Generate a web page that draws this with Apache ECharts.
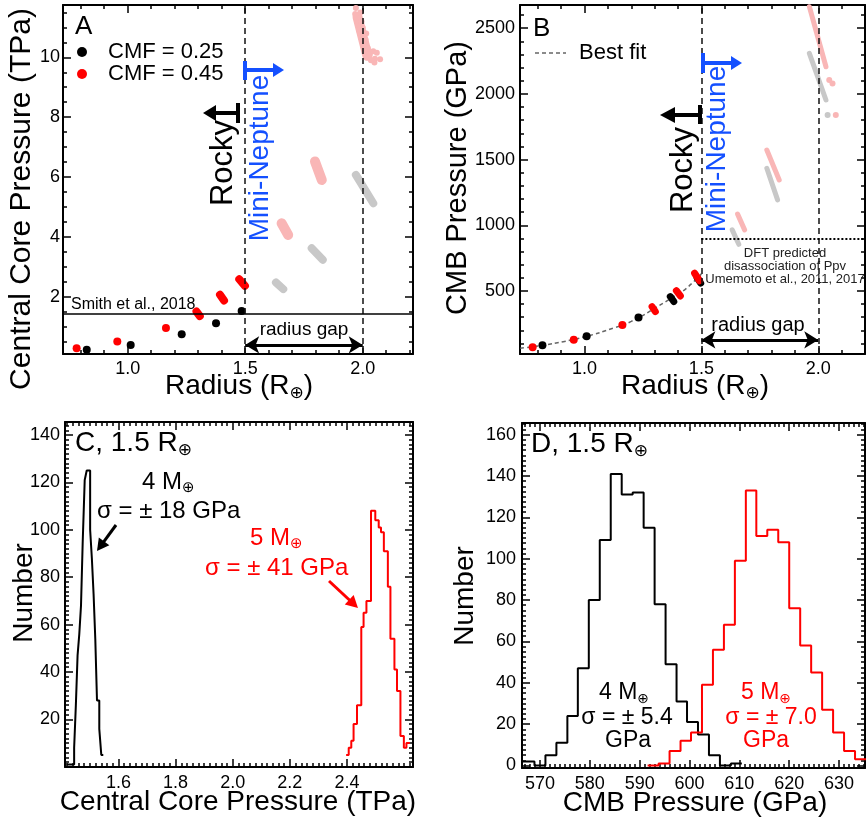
<!DOCTYPE html>
<html>
<head>
<meta charset="utf-8">
<script src="https://cdn.jsdelivr.net/npm/echarts@6/dist/echarts.min.js"></script>
<style>
  html, body { margin: 0; padding: 0; background: #fff; }
  #chart { width: 866px; height: 824px; }
</style>
</head>
<body>
<div id="chart"></div>
<script>
// ---------- Panel A: central core pressure (TPa) vs radius ----------
// rocky planets, CMF = 0.25 (black) – single round clusters
const aR25 = [0.826, 1.013, 1.23, 1.376, 1.485];
const aP25 = [0.22, 0.38, 0.74, 1.11, 1.52];
// rocky planets, CMF = 0.45 (red) – round clusters
const aR45 = [0.783, 0.956, 1.163];
const aP45 = [0.27, 0.50, 0.95];
// CMF = 0.45 elongated clusters, start / end of each
const aR45s = [1.293, 1.393, 1.475];
const aP45s = [1.50, 2.06, 2.58];
const aR45e = [1.307, 1.41, 1.499];
const aP45e = [1.35, 1.87, 2.36];
// mini-Neptune models: pink (CMF 0.45) and grey (CMF 0.25) bands
const aPinkRs = [1.655, 1.797, 1.978];
const aPinkPs = [4.45, 6.52, 11.35];
const aPinkRe = [1.683, 1.826, 2.02];
const aPinkPe = [4.06, 5.90, 10.05];
const aPinkDotR = [1.971, 1.968, 1.99, 2.0, 2.012, 2.022, 2.03, 1.985, 2.015, 2.045, 2.06, 2.052, 2.074, 2.05, 2.035, 1.995];
const aPinkDotP = [11.65, 11.45, 11.5, 11.0, 10.6, 10.3, 10.1, 10.9, 10.8, 10.2, 10.15, 9.95, 9.94, 9.83, 9.9, 11.2];
const aGreyRs = [1.631, 1.783, 1.971];
const aGreyPs = [2.47, 3.62, 6.07];
const aGreyRe = [1.662, 1.83, 2.045];
const aGreyPe = [2.25, 3.23, 5.12];
const smithP = 1.41;            // Smith et al., 2018
const gapR = [1.5, 2.0];        // radius gap bounds
const aGapArrowP = 0.385;

// ---------- Panel B: CMB pressure (GPa) vs radius ----------
const bR25 = [0.82, 1.009, 1.231];
const bP25 = [87, 155, 297];
const bR25s = [1.367, 1.482];
const bP25s = [457, 600];
const bR25e = [1.382, 1.497];
const bP25e = [419, 560];
const bR45 = [0.778, 0.954, 1.162];
const bP45 = [72, 129, 241];
const bR45s = [1.289, 1.393, 1.471];
const bP45s = [381, 502, 635];
const bR45e = [1.303, 1.41, 1.492];
const bP45e = [343, 462, 578];
const bPinkRs = [1.655, 1.78, 1.962];
const bPinkPs = [1085, 1573, 2664];
const bPinkRe = [1.685, 1.833, 2.033];
const bPinkPe = [965, 1345, 2207];
const bPinkDotR = [2.047, 2.061, 2.075];
const bPinkDotP = [2106, 2080, 1839];
const bGreyRs = [1.632, 1.78, 1.962];
const bGreyPs = [965, 1434, 2309];
const bGreyRe = [1.66, 1.826, 2.033];
const bGreyPe = [855, 1193, 1954];
const bGreyDotR = [2.04];
const bGreyDotP = [1839];
const bestFitR = [0.725, 0.82, 0.909, 1.0, 1.122, 1.2, 1.308, 1.4, 1.436, 1.5];
const bestFitP = [64, 86, 114, 150, 216, 268, 376, 478, 520, 630];
const dftP = 900;               // DFT predicted Ppv dissociation
const bGapArrowP = 127;

// ---------- Panel C: central core pressure histograms (TPa) ----------
const c4Edges = [1.419, 1.445, 1.451, 1.457, 1.463, 1.469, 1.475, 1.482, 1.489, 1.495,
                 1.501, 1.507, 1.513, 1.519, 1.525, 1.533, 1.540, 1.547];
const c4Counts = [1, 8, 26, 47, 56, 68, 95, 121, 125, 125, 100, 88, 73, 54, 28, 16, 5];
const c5Edges = [2.397, 2.406, 2.415, 2.423, 2.435, 2.450, 2.458, 2.468, 2.484, 2.499,
                 2.511, 2.519, 2.529, 2.543, 2.552, 2.566, 2.575, 2.587, 2.599, 2.608, 2.620];
const c5Counts = [5, 8, 11, 18, 26, 59, 65, 70, 108, 104, 101, 99, 91, 76, 54, 41, 32, 13, 8, 10];

// ---------- Panel D: CMB pressure histograms (GPa) ----------
const d4Edges = [566.5, 568.9, 571.1, 573.3, 575.5, 577.6, 579.8, 582.0, 584.2, 586.4, 588.6,
                 590.8, 593.0, 595.2, 597.4, 599.5, 601.7, 603.9, 606.1, 608.3, 610.5];
const d4Counts = [2, 0, 5, 11, 24, 47, 80, 109, 141, 131, 132, 115, 78, 49, 31, 21, 15, 5, 0, 1];
const d5Edges = [591.6, 593.8, 596.0, 598.2, 600.3, 602.5, 604.7, 606.9, 609.1, 611.3, 613.4,
                 615.6, 617.8, 620.0, 622.2, 624.4, 626.6, 628.8, 631.0, 633.2, 635.4];
const d5Counts = [0, 1, 7, 12, 16, 39, 56, 68, 99, 133, 111, 114, 108, 76, 58, 45, 27, 16, 7, 3];

// ---------- tick labels ----------
const radiusTicks = [1.0, 1.5, 2.0];
const aPressTicks = [2, 4, 6, 8, 10];
const bPressTicks = [500, 1000, 1500, 2000, 2500];
const cPressTicks = [1.6, 1.8, 2.0, 2.2, 2.4];
const cNumTicks = [20, 40, 60, 80, 100, 120, 140];
const dPressTicks = [570, 580, 590, 600, 610, 620, 630];
const dNumTicks = [0, 20, 40, 60, 80, 100, 120, 140, 160];

// ---------- helpers ----------
const FONT = '"Liberation Sans", Arial, Helvetica, sans-serif';
const RED = '#ff0000', PINK = '#f9b6b6', GREY = '#c8c8c8', BLUE = '#1450ff';

function zip(xs, ys) { return xs.map((x, i) => [x, ys[i]]); }
function minorTicks(from, to, step, majors) {
  const out = [];
  for (let v = from; v <= to + 1e-9; v += step) {
    const r = Math.round(v * 1e6) / 1e6;
    if (!majors.some(m => Math.abs(m - r) < 1e-6)) out.push(r);
  }
  return out;
}
// histogram outline: one horizontal step per bin
function stepOutline(edges, counts) {
  const pts = [];
  counts.forEach((c, i) => { pts.push([edges[i], c]); pts.push([edges[i + 1], c]); });
  return pts;
}

const grids = [];
const xAxes = [];
const yAxes = [];
function panel(g, box, x, y) {
  grids.push(Object.assign({ show: false }, box));
  const line = { show: true, onZero: false, lineStyle: { color: '#000', width: 2 } };
  const mk = (pos, spec, major, withLine, withLabel) => ({
    type: 'value', gridIndex: g, position: pos, min: spec.min, max: spec.max,
    splitLine: { show: false },
    axisLine: withLine ? line : { show: false, onZero: false },
    axisTick: {
      show: true, inside: true, length: major ? 8 : 4,
      customValues: major ? spec.major : spec.minor,
      lineStyle: { color: '#000', width: 1.5 }
    },
    axisLabel: withLabel ? {
      show: true, customValues: spec.major, margin: spec.margin,
      formatter: spec.fmt, color: '#000', fontSize: 18, fontFamily: FONT
    } : { show: false },
    silent: true
  });
  xAxes.push(mk('bottom', x, true, true, true), mk('bottom', x, false, false, false),
             mk('top', x, true, true, false), mk('top', x, false, false, false));
  yAxes.push(mk('left', y, true, true, true), mk('left', y, false, false, false),
             mk('right', y, true, true, false), mk('right', y, false, false, false));
}
const f1 = v => v.toFixed(1);
const f0 = v => String(Math.round(v));

panel(0, { left: 63, top: 5, width: 350, height: 349 },
  { min: 0.725, max: 2.214, major: radiusTicks, minor: minorTicks(0.8, 2.2, 0.1, radiusTicks), fmt: f1, margin: 6 },
  { min: 0.08, max: 11.75, major: aPressTicks, minor: minorTicks(0.5, 11.5, 0.5, aPressTicks), fmt: f0, margin: 3 });
panel(1, { left: 520, top: 5, width: 345, height: 349 },
  { min: 0.724, max: 2.2, major: radiusTicks, minor: minorTicks(0.8, 2.19, 0.1, radiusTicks), fmt: f1, margin: 6 },
  { min: 20, max: 2677, major: bPressTicks, minor: minorTicks(100, 2600, 100, bPressTicks), fmt: f0, margin: 5 });
panel(2, { left: 65, top: 422, width: 348, height: 345 },
  { min: 1.413, max: 2.631, major: cPressTicks, minor: minorTicks(1.42, 2.62, 0.02, cPressTicks), fmt: f1, margin: 7 },
  { min: -0.1, max: 145.5, major: cNumTicks, minor: minorTicks(2, 144, 2, cNumTicks), fmt: f0, margin: 5 });
panel(3, { left: 522, top: 423, width: 343, height: 345 },
  { min: 566.4, max: 635.2, major: dPressTicks, minor: minorTicks(567, 635, 1, dPressTicks), fmt: f0, margin: 7 },
  { min: -1.2, max: 165.6, major: dNumTicks, minor: minorTicks(2.5, 165, 2.5, dNumTicks), fmt: f0, margin: 6 });

// elongated model clusters drawn as round-capped strokes between two data points
function bands(g, rs, ps, re, pe, color, width, z) {
  return {
    type: 'custom', xAxisIndex: 4 * g, yAxisIndex: 4 * g, z: z || 2, silent: true,
    encode: { x: [0, 2], y: [1, 3] },
    data: rs.map((r, i) => [r, ps[i], re[i], pe[i]]),
    renderItem: (params, api) => {
      const a = api.coord([api.value(0), api.value(1)]);
      const b = api.coord([api.value(2), api.value(3)]);
      return { type: 'line', shape: { x1: a[0], y1: a[1], x2: b[0], y2: b[1] },
               style: { stroke: color, lineWidth: width, lineCap: 'round' } };
    }
  };
}
function dots(g, xs, ys, color, size, z, extra) {
  return Object.assign({
    type: 'scatter', xAxisIndex: 4 * g, yAxisIndex: 4 * g, z: z || 3, silent: true,
    symbolSize: size, itemStyle: { color: color, opacity: 1 }, data: zip(xs, ys)
  }, extra || {});
}
function hist(g, edges, counts, color) {
  return { type: 'line', xAxisIndex: 4 * g, yAxisIndex: 4 * g, silent: true, symbol: 'none',
           lineStyle: { color: color, width: 2 }, data: stepOutline(edges, counts), z: 3 };
}
const vGapLines = {
  silent: true, symbol: 'none', label: { show: false }, animation: false,
  lineStyle: { color: '#111', width: 1.5, type: [6, 4] },
  data: gapR.map(r => ({ xAxis: r }))
};
function gapArrow(p) {
  return {
    silent: true, symbol: ['arrow', 'arrow'], symbolSize: [13, 14], label: { show: false }, animation: false,
    lineStyle: { color: '#000', width: 3, type: 'solid' },
    data: [[{ coord: [gapR[0], p] }, { coord: [gapR[1], p] }]]
  };
}

const series = [
  // Panel A
  bands(0, aGreyRs, aGreyPs, aGreyRe, aGreyPe, GREY, 8),
  bands(0, aPinkRs, aPinkPs, aPinkRe, aPinkPe, PINK, 10),
  dots(0, aPinkDotR, aPinkDotP, PINK, 6, 2, { markLine: gapArrow(aGapArrowP) }),
  dots(0, aR25, aP25, '#000', 8, 3, { markLine: vGapLines }),
  dots(0, aR45, aP45, RED, 8, 4, {
    markLine: { silent: true, symbol: 'none', label: { show: false }, animation: false,
                lineStyle: { color: '#000', width: 1.5, type: 'solid' }, data: [{ yAxis: smithP }] }
  }),
  bands(0, aR45s, aP45s, aR45e, aP45e, RED, 8, 4),
  // Panel B
  {
    type: 'line', xAxisIndex: 4, yAxisIndex: 4, silent: true, symbol: 'none', smooth: true, z: 2,
    lineStyle: { color: '#666', width: 1.5, type: [4, 3] }, data: zip(bestFitR, bestFitP)
  },
  bands(1, bGreyRs, bGreyPs, bGreyRe, bGreyPe, GREY, 5),
  bands(1, bPinkRs, bPinkPs, bPinkRe, bPinkPe, PINK, 5),
  dots(1, bGreyDotR, bGreyDotP, GREY, 6, 2),
  dots(1, bPinkDotR, bPinkDotP, PINK, 6, 2, { markLine: gapArrow(bGapArrowP) }),
  dots(1, bR25, bP25, '#000', 8, 3, { markLine: vGapLines }),
  bands(1, bR25s, bP25s, bR25e, bP25e, '#000', 7, 3),
  dots(1, bR45, bP45, RED, 8, 4, {
    markLine: { silent: true, symbol: 'none', label: { show: false }, animation: false,
                lineStyle: { color: '#000', width: 2, type: [2, 2] },
                data: [[{ coord: [gapR[0], dftP] }, { coord: [2.2, dftP] }]] }
  }),
  bands(1, bR45s, bP45s, bR45e, bP45e, RED, 7, 4),
  // Panel C
  hist(2, c4Edges, c4Counts, '#000'),
  hist(2, c5Edges, c5Counts, RED),
  // Panel D
  hist(3, d4Edges, d4Counts, '#000'),
  hist(3, d5Edges, d5Counts, RED)
];

// ---------- annotations ----------
function text(x, y, str, size, opts) {
  opts = opts || {};
  return {
    type: 'text', x: x, y: y, rotation: opts.rot || 0, z: 100, silent: true,
    style: {
      text: str, font: size + 'px ' + FONT, fill: opts.color || '#000',
      align: opts.align || 'center', verticalAlign: 'middle',
      textAlign: opts.align || 'center', textVerticalAlign: 'middle'
    }
  };
}
// text with a subscripted Earth symbol
function textSub(x, y, pre, post, size, opts) {
  opts = opts || {};
  const color = opts.color || '#000';
  const sub = Math.round(size * 0.62);
  return {
    type: 'text', x: x, y: y, rotation: opts.rot || 0, z: 100, silent: true,
    style: {
      text: '{m|' + pre + '}{s|⊕}' + (post ? '{m|' + post + '}' : ''),
      align: opts.align || 'center', verticalAlign: 'middle',
      textAlign: opts.align || 'center', textVerticalAlign: 'middle',
      rich: {
        m: { fontSize: size, fontFamily: FONT, fill: color, color: color, lineHeight: size + 4 },
        s: { fontSize: sub, fontFamily: '"DejaVu Sans", sans-serif', fill: color, color: color,
             lineHeight: Math.round(size * 0.5), verticalAlign: 'bottom' }
      }
    }
  };
}
function seg(x1, y1, x2, y2, color, w, dash) {
  return { type: 'line', z: 100, silent: true, shape: { x1, y1, x2, y2 },
           style: { stroke: color, lineWidth: w, lineDash: dash || null } };
}
function arrow(x1, y1, x2, y2, color, w, hl, hw) {
  const dx = x2 - x1, dy = y2 - y1, L = Math.hypot(dx, dy), ux = dx / L, uy = dy / L;
  const bx = x2 - ux * hl, by = y2 - uy * hl;
  return [
    seg(x1, y1, bx + ux, by + uy, color, w),
    { type: 'polygon', z: 100, silent: true,
      shape: { points: [[x2, y2], [bx - uy * hw / 2, by + ux * hw / 2], [bx + uy * hw / 2, by - ux * hw / 2]] },
      style: { fill: color } }
  ];
}
const UP = Math.PI / 2; // rotate text to read bottom-to-top

const graphics = [
  // Panel A
  text(75, 27, 'A', 26, { align: 'left' }),
  { type: 'circle', z: 100, silent: true, shape: { cx: 82, cy: 52, r: 5 }, style: { fill: '#000' } },
  { type: 'circle', z: 100, silent: true, shape: { cx: 82, cy: 74, r: 5 }, style: { fill: RED } },
  text(108, 52, 'CMF = 0.25', 22, { align: 'left' }),
  text(108, 74, 'CMF = 0.45', 22, { align: 'left' }),
  text(71, 305, 'Smith et al., 2018', 16, { align: 'left' }),
  text(304, 330, 'radius gap', 19),
  text(223, 163, 'Rocky', 31, { rot: UP }),
  text(260, 158, 'Mini-Neptune', 28, { rot: UP, color: BLUE }),
  seg(238, 103, 238, 123, '#000', 4),
  ...arrow(238, 113, 203, 113, '#000', 4, 13, 16),
  seg(245, 61, 245, 80, BLUE, 4),
  ...arrow(245, 70, 284, 70, BLUE, 4, 11, 14),
  text(22, 199, 'Central Core Pressure (TPa)', 30, { rot: UP }),
  textSub(239, 386, 'Radius (R', ')', 28),
  // Panel B
  text(533, 29, 'B', 26, { align: 'left' }),
  seg(535, 53, 566, 53, '#666', 1.5, [4, 3]),
  text(579, 53, 'Best fit', 22, { align: 'left' }),
  text(785, 253, 'DFT predicted', 13, { color: '#222' }),
  text(785, 266, 'disassociation of Ppv', 13, { color: '#222' }),
  text(785, 279, 'Umemoto et al., 2011, 2017', 13, { color: '#222' }),
  text(758, 325, 'radius gap', 20),
  text(683, 170, 'Rocky', 31, { rot: UP }),
  text(717, 149, 'Mini-Neptune', 28, { rot: UP, color: BLUE }),
  seg(700, 105, 700, 124, '#000', 4),
  ...arrow(700, 115, 660, 115, '#000', 4, 15, 16),
  seg(703, 53, 703, 73, BLUE, 4),
  ...arrow(703, 63, 742, 63, BLUE, 4, 11, 14),
  text(458, 178, 'CMB Pressure (GPa)', 29, { rot: UP }),
  textSub(695, 386, 'Radius (R', ')', 28),
  // Panel C
  textSub(75, 443, 'C, 1.5 R', '', 28, { align: 'left' }),
  text(24, 593, 'Number', 28, { rot: UP }),
  text(238, 802, 'Central Core Pressure (TPa)', 28),
  textSub(142, 482, '4 M', '', 24, { align: 'left' }),
  text(97, 511, 'σ = ± 18 GPa', 24, { align: 'left' }),
  ...arrow(116, 525, 97, 551, '#000', 3, 12, 13),
  textSub(250, 538, '5 M', '', 24, { align: 'left', color: RED }),
  text(205, 568, 'σ = ± 41 GPa', 24, { align: 'left', color: RED }),
  ...arrow(329, 581, 358, 608, RED, 3, 12, 13),
  // Panel D
  textSub(531, 444, 'D, 1.5 R', '', 28, { align: 'left' }),
  text(465, 596, 'Number', 28, { rot: UP }),
  text(695, 803, 'CMB Pressure (GPa)', 28),
  textSub(624, 693, '4 M', '', 23),
  text(627, 718, 'σ = ± 5.4', 23),
  text(628, 741, 'GPa', 23),
  textSub(766, 693, '5 M', '', 23, { color: RED }),
  text(771, 718, 'σ = ± 7.0', 23, { color: RED }),
  text(766, 741, 'GPa', 23, { color: RED })
];

const chart = echarts.init(document.getElementById('chart'), null, { renderer: 'canvas' });
chart.setOption({
  animation: false,
  backgroundColor: '#fff',
  textStyle: { fontFamily: FONT },
  grid: grids,
  xAxis: xAxes,
  yAxis: yAxes,
  series: series,
  graphic: { elements: graphics }
});
</script>
</body>
</html>
